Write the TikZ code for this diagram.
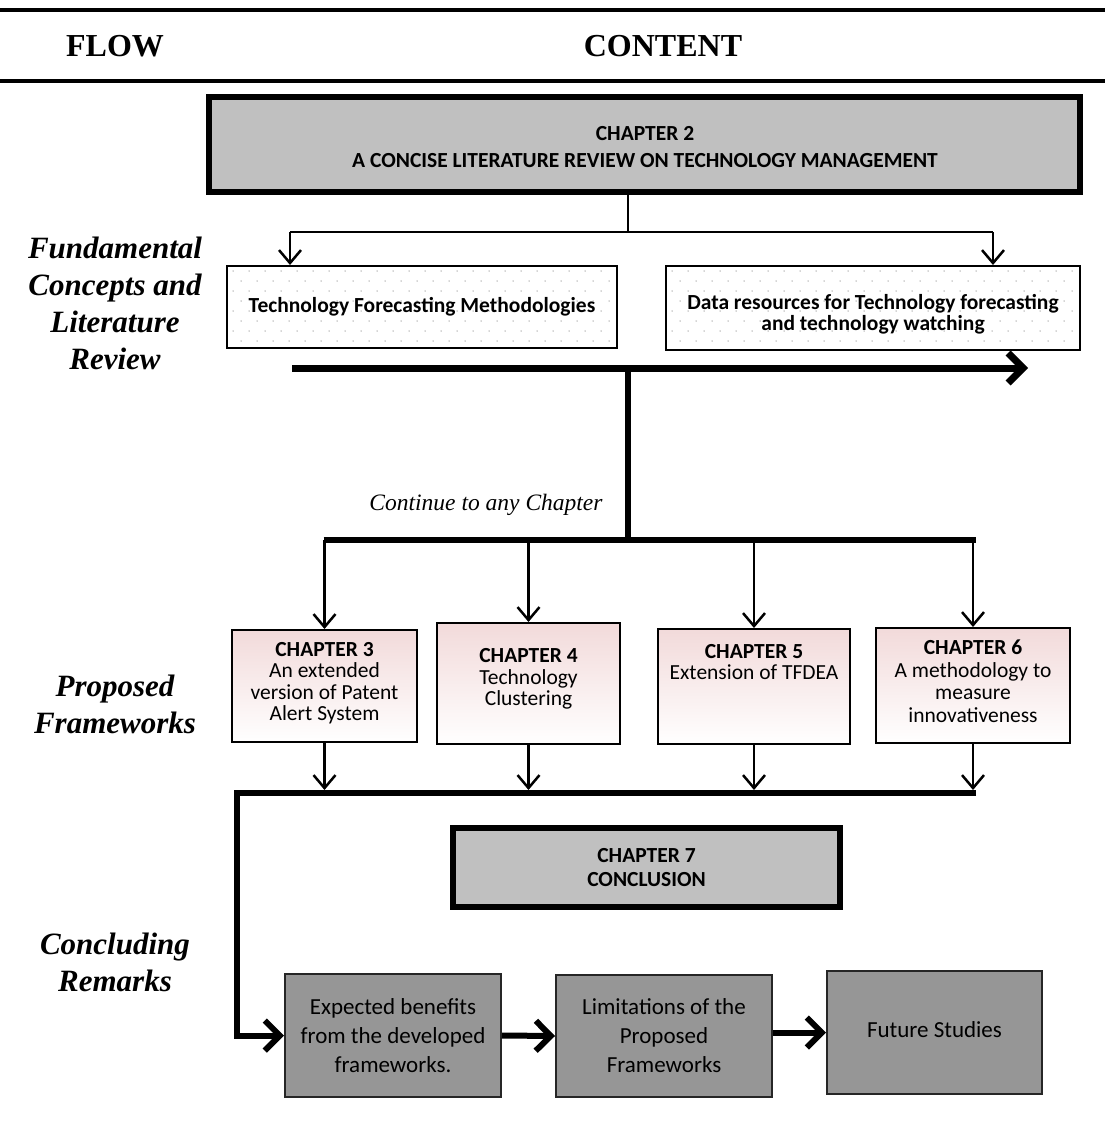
\documentclass[tikz,border=0pt]{standalone}
\usepackage{fontspec}
\setmainfont{Liberation Serif}
\newfontfamily\boxfont{Carlito}
\usetikzlibrary{arrows.meta,calc}

\definecolor{chgray}{RGB}{192,192,192}
\definecolor{endgray}{RGB}{150,150,150}
\definecolor{chpink}{RGB}{242,218,218}
\definecolor{dotgray}{RGB}{170,170,170}

\tikzset{
  hrule/.style={line width=4pt},
  bigbox/.style={draw, line width=6pt, fill=chgray, inner sep=0pt},
  dotbox/.style={draw, line width=2pt, inner sep=0pt, fill=white,
    path picture={
      \foreach \i in {0,...,27} \foreach \j in {0,...,8} {
        \fill[dotgray] ($(path picture bounding box.north west)+({\i*16+mod(\j,2)*8+6},{\j*10+5})$) circle (0.75pt);
      }
    }},
  chapbox/.style={draw, line width=2pt, top color=chpink, bottom color=white, inner sep=0pt},
  endbox/.style={draw=black!85, line width=2pt, fill=endgray, inner sep=0pt},
  boxtext/.style={font=\boxfont\fontsize{21.5}{21.5}\selectfont, align=center, inner sep=0pt},
  endtext/.style={font=\boxfont\fontsize{23}{29}\selectfont, align=center, inner sep=0pt},
  thinarrow/.style={line width=2.5pt, -{Straight Barb[length=13pt,width=22pt]}},
  thickarrow/.style={line width=7pt, line join=miter, -{Straight Barb[length=15pt,width=30pt]}},
  thickline/.style={line width=6pt},
  sidelabel/.style={font=\bfseries\itshape\fontsize{31}{37}\selectfont, align=center, inner sep=0pt},
  header/.style={font=\bfseries\fontsize{32}{34}\selectfont, inner sep=0pt, anchor=base},
}

\begin{document}
\begin{tikzpicture}[x=1pt,y=-1pt]
\useasboundingbox (0,0) rectangle (1105,1142);

% header rules and column titles
\draw[hrule] (0,10) -- (1105,10);
\draw[hrule] (0,81) -- (1105,81);
\node[header] (flow) at (115,57) {FLOW};
\node[header] (content) at (663,57) {CONTENT};

% side labels
\node[sidelabel] (lblA) at (115,303) {Fundamental\\Concepts and\\Literature\\Review};
\node[sidelabel] (lblB) at (115,704) {Proposed\\Frameworks};
\node[sidelabel] (lblC) at (115,962) {Concluding\\Remarks};

% chapter 2
\node[bigbox, minimum width=871pt, minimum height=95pt] (ch2) at (644.5,144.5) {};
\node[boxtext, font=\boxfont\bfseries\fontsize{21.5}{27}\selectfont] (ch2t) at (645,147)
  {CHAPTER 2\\A CONCISE LITERATURE REVIEW ON TECHNOLOGY MANAGEMENT};

% literature boxes
\node[dotbox, minimum width=390pt, minimum height=82pt] (tfm) at (422,307) {};
\node[boxtext, font=\boxfont\bfseries\fontsize{21.5}{22}\selectfont] (tfmt) at (tfm) {Technology Forecasting Methodologies};
\node[dotbox, minimum width=414pt, minimum height=84pt] (dr) at (873,308) {};
\node[boxtext, font=\boxfont\bfseries\fontsize{21.5}{21}\selectfont] (drt) at (873,314)
  {Data resources for Technology forecasting\\and technology watching};

% branch from chapter 2
\coordinate (hubA) at (628,232);
\coordinate (brL) at (290,232);
\coordinate (brR) at (993,232);
\draw[line width=2.5pt] (ch2.south -| hubA) -- (hubA);
\draw[line width=2.5pt] (brL) -- (brR);
\draw[thinarrow] (brL) -- (tfm.north -| brL);
\draw[thinarrow] (brR) -- (dr.north -| brR);

% main flow arrow and drop
\coordinate (flowS) at (292,368);
\coordinate (flowE) at (1028,368);
\draw[thickarrow] (flowS) -- (flowE);
\coordinate (hubTop) at (628,368);
\coordinate (hubBot) at (628,540);
\draw[thickline] (hubTop) -- (hubBot);
\node[font=\itshape\fontsize{23.5}{26}\selectfont, inner sep=0pt] (cont) at (486,505) {Continue to any Chapter};

% chapter boxes
\node[chapbox, minimum width=185pt, minimum height=112pt] (ch3) at (324.5,686) {};
\node[chapbox, minimum width=183pt, minimum height=121pt] (ch4) at (528.5,683.5) {};
\node[chapbox, minimum width=192pt, minimum height=115pt] (ch5) at (754,686.5) {};
\node[chapbox, minimum width=194pt, minimum height=115pt] (ch6) at (973,685.5) {};
\node[boxtext] (ch3t) at (324.5,683) {\textbf{CHAPTER 3}\\An extended\\version of Patent\\Alert System};
\node[boxtext] (ch4t) at (528.5,679) {\textbf{CHAPTER 4}\\Technology\\Clustering};
\node[boxtext] (ch5t) at (754,662) {\textbf{CHAPTER 5}\\Extension of TFDEA};
\node[boxtext, font=\boxfont\fontsize{21.5}{22.5}\selectfont] (ch6t) at (973,681) {\textbf{CHAPTER 6}\\A methodology to\\measure\\innovativeness};

% upper bus with arrows into chapters
\coordinate (busL) at (ch3.north |- hubBot);
\coordinate (busR) at (ch6.north |- hubBot);
\draw[thickline] ([xshift=-1pt]busL) -- ([xshift=3pt]busR);
\foreach \n in {ch3,ch4,ch5,ch6}
  \draw[thinarrow] (\n.north |- hubBot) -- (\n.north);

% lower bus
\coordinate (lowL) at (237,793);
\coordinate (lowR) at (ch6.south |- lowL);
\foreach \n in {ch3,ch4,ch5,ch6}
  \draw[thinarrow] (\n.south) -- ([yshift=3pt]\n.south |- lowL);

% chapter 7
\node[bigbox, minimum width=387pt, minimum height=79pt] (ch7) at (646.5,867.5) {};
\node[boxtext, font=\boxfont\bfseries\fontsize{21.5}{24}\selectfont] (ch7t) at (646.5,868) {CHAPTER 7\\CONCLUSION};

% concluding boxes
\node[endbox, minimum width=216pt, minimum height=123pt] (b1) at (393,1035.5) {};
\node[endbox, minimum width=216pt, minimum height=122pt] (b2) at (664,1036) {};
\node[endbox, minimum width=215pt, minimum height=123pt] (b3) at (934.5,1032.5) {};
\node[endtext] (b1t) at (b1) {Expected benefits\\from the developed\\frameworks.};
\node[endtext] (b2t) at (b2) {Limitations of the\\Proposed\\Frameworks};
\node[endtext] (b3t) at (934.5,1030) {Future Studies};

\draw[thickarrow, line width=6pt] ([xshift=3pt]lowR) -- (lowL) |- (b1.west);
\draw[thickarrow, line width=6pt] (b1.east) -- (b2.west);
\draw[thickarrow, line width=6pt] (b2.east |- b3.west) -- (b3.west);
\end{tikzpicture}
\end{document}
